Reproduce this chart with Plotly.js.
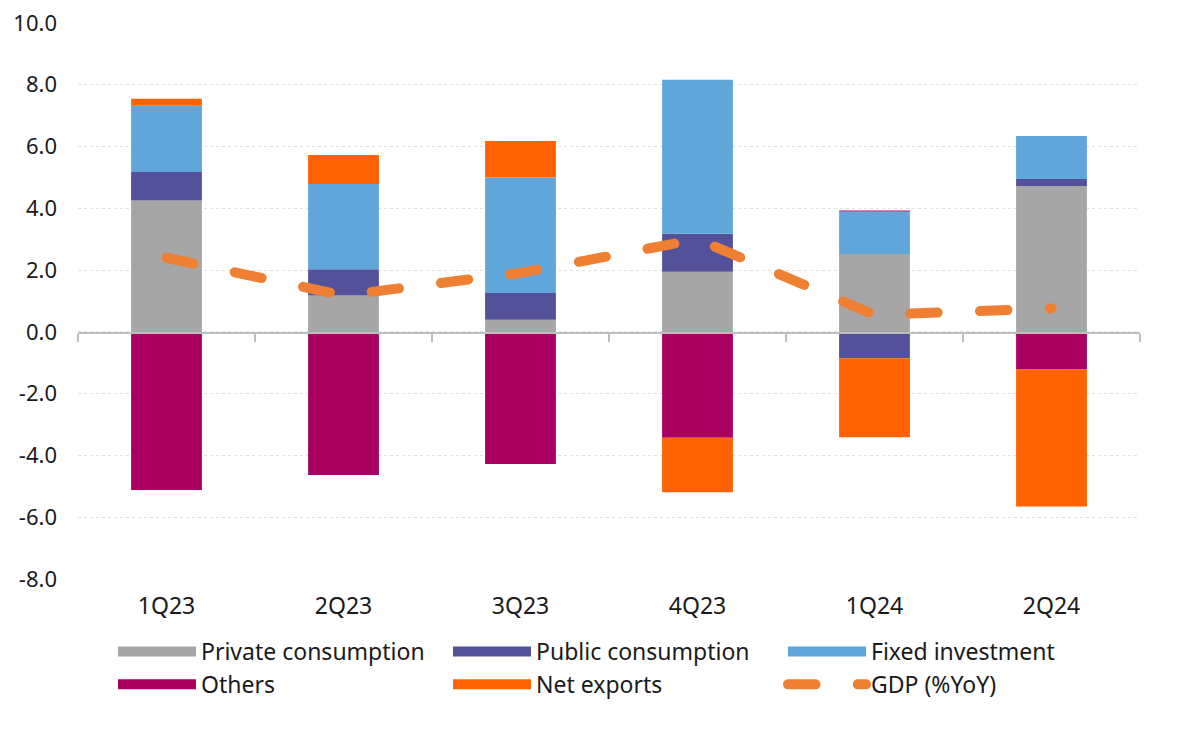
<!DOCTYPE html>
<html>
<head>
<meta charset="utf-8">
<script src="https://cdn.plot.ly/plotly-3.0.1.min.js"></script>
<style>
  body { margin: 0; background: #fff; }
  #chart { width: 1200px; height: 733px; }
  .scatterlayer .js-line { stroke-linecap: round; }
  .legend .traces:last-child .js-line { stroke-linecap: round; }
</style>
</head>
<body>
<div id="chart"></div>
<script>
const categories = ["1Q23", "2Q23", "3Q23", "4Q23", "1Q24", "2Q24"];
const privateCons = [4.25, 1.18, 0.39, 1.95, 2.52, 4.72];
const publicCons = [0.93, 0.85, 0.87, 1.23, -0.85, 0.23];
const fixedInv = [2.14, 2.76, 3.74, 4.98, 1.38, 1.39];
const others = [-5.12, -4.63, -4.28, -3.43, 0.03, -1.22];
const netExports = [0.23, 0.94, 1.18, -1.76, -2.56, -4.43];
const gdp = [2.4, 1.18, 1.91, 3.0, 0.55, 0.76];
const yTicks = [10, 8, 6, 4, 2, 0, -2, -4, -6, -8];
const yTickText = ["10.0", "8.0", "6.0", "4.0", "2.0", "0.0", "-2.0", "-4.0", "-6.0", "-8.0"];

const colors = {
    private: "#A6A6A6",
    public: "#525199",
    fixed: "#60A6DA",
    others: "#A90061",
    net: "#FF6200",
    gdp: "#EE7F33",
};

const barSeries = [
    { name: "Private consumption", y: privateCons, color: colors.private },
    { name: "Public consumption", y: publicCons, color: colors.public },
    { name: "Fixed investment", y: fixedInv, color: colors.fixed },
    { name: "Others", y: others, color: colors.others },
    { name: "Net exports", y: netExports, color: colors.net },
];

const font = "Noto Sans, sans-serif";

// real bars, no legend entries (legend uses wide swatches below)
let traces = barSeries.map((s) => ({
    type: "bar",
    name: s.name,
    x: categories,
    y: s.y,
    marker: { color: s.color, line: { width: 0 } },
    showlegend: false,
}));

// legend swatches
barSeries.forEach((s) => {
    traces.push({
        type: "scatter",
        mode: "lines",
        name: s.name,
        x: [null],
        y: [null],
        line: { color: s.color, width: 13 },
        hoverinfo: "skip",
    });
});

traces.push({
    type: "scatter",
    mode: "lines",
    name: "GDP (%YoY)",
    x: categories,
    y: gdp,
    xaxis: "x2",
    line: { color: colors.gdp, width: 10, dash: "27.5px,42.3px" },
});

let layout = {
    width: 1200,
    height: 733,
    paper_bgcolor: "#fff",
    plot_bgcolor: "#fff",
    font: { family: font, size: 22, color: "#1a1a1a" },
    margin: { l: 78, r: 60, t: 23, b: 154 },
    barmode: "relative",
    bargap: 0.6,
    showlegend: true,
    legend: {
        orientation: "h",
        xref: "container",
        yref: "container",
        x: 113 / 1200,
        y: 1 - 630 / 733,
        xanchor: "left",
        yanchor: "top",
        entrywidth: 242,
        itemwidth: 78,
        traceorder: "normal",
        font: { family: font, size: 23, color: "#1a1a1a" },
    },
    xaxis: {
        type: "category",
        range: [-0.5, 5.5],
        showline: false,
        showgrid: false,
        zeroline: false,
        ticks: "",
        tickfont: { family: font, size: 23, color: "#1a1a1a" },
        ticklabelstandoff: 11,
    },
    xaxis2: {
        type: "category",
        overlaying: "x",
        anchor: "free",
        position: 247 / 556,
        range: [-0.5, 5.5],
        showline: true,
        linecolor: "#BFBFBF",
        linewidth: 1.5,
        showgrid: false,
        zeroline: false,
        ticks: "outside",
        tickson: "boundaries",
        ticklen: 8,
        tickcolor: "#BFBFBF",
        tickwidth: 1.5,
        showticklabels: false,
    },
    yaxis: {
        range: [-8, 10],
        tickvals: yTicks,
        ticktext: yTickText,
        showgrid: true,
        gridcolor: "#E0E0E0",
        griddash: "dot",
        gridwidth: 1,
        zeroline: false,
        showline: false,
        ticks: "",
        tickfont: { family: font, size: 22, color: "#1a1a1a" },
        ticklabelstandoff: 20,
    },
};

Plotly.newPlot("chart", traces, layout, { displayModeBar: false, staticPlot: true });
</script>
</body>
</html>
